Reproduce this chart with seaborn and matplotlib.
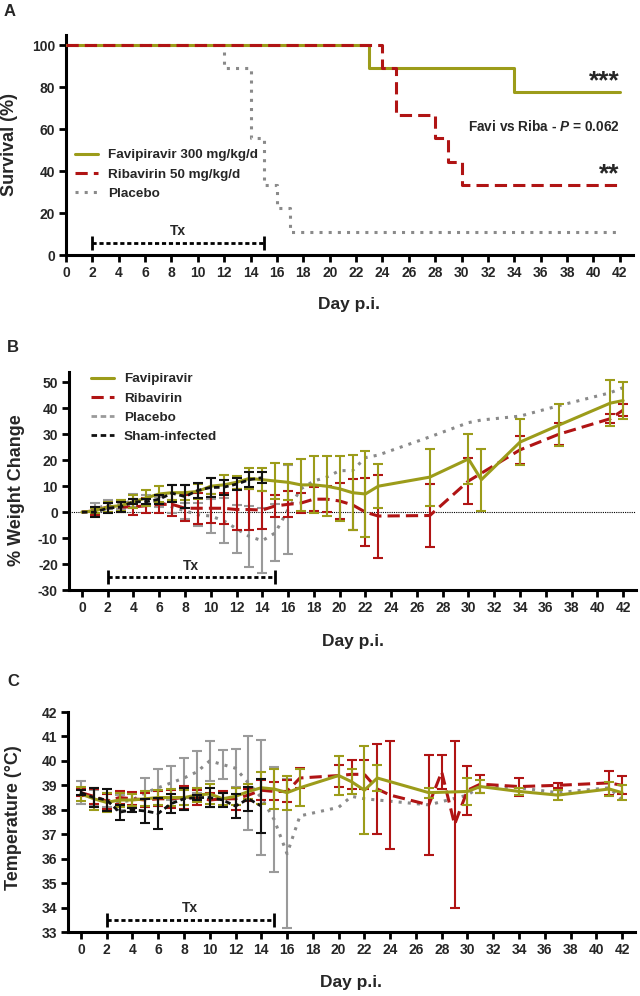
import numpy as np
import pandas as pd
import matplotlib
matplotlib.use("Agg")
import matplotlib.pyplot as plt
import seaborn as sns
from matplotlib.lines import Line2D

# ---------------- Panel A: survival ----------------
surv_days_favi = [0, 23, 34, 42]
surv_favi = [100, 88.9, 77.8, 77.8]
surv_days_riba = [0, 24, 25, 28, 29, 30, 42]
surv_riba = [100, 88.9, 66.7, 55.6, 44.4, 33.3, 33.3]
surv_days_plac = [0, 12, 14, 15, 16, 17, 42]
surv_plac = [100, 88.9, 55.6, 33.3, 22.2, 11.1, 11.1]

# ---------------- Panel B: % weight change ----------------
wt_days_favi = list(range(0, 24)) + [27, 30, 31, 34, 37, 41, 42]
wt_favi = [0, 0.5, 2, 2.5, 4, 5.5, 7, 7.5, 7.5, 8, 10, 10.5, 11.5, 13, 12.5,
           12, 11.5, 10.5, 10.5, 10, 9, 7.5, 7, 10,
           13.5, 20.5, 12.5, 27, 33.5, 42, 43]
wt_favi_sd = [0, 1, 2, 2, 2.5, 3, 3, 3, 3, 3, 3, 4, 2.5, 4, 4.5,
              7, 7, 10, 11, 11.5, 12.5, 14.5, 16.5, 8.5,
              11, 9.5, 12, 9, 8, 9, 7]

wt_days_riba = list(range(0, 24)) + [27, 30, 34, 37, 41, 42]
wt_riba = [0, 0.5, 2, 2, 2, 2.5, 3, 3, 1.5, 1.5, 1.5, 1.5, 1, 1, 0.8,
           2.4, 3, 3.5, 5, 5, 4.3, 2.8, 0, -1.5,
           -1.3, 12, 24, 30, 36, 39.3]
wt_riba_sd = [0, 1.5, 2, 2, 3, 3, 3.5, 4.5, 5, 6, 5.5, 6, 8, 8, 7.2,
              4.1, 5, 4, 4.5, 5, 6.8, 9.8, 13, 16,
              12.2, 8.7, 5.3, 4.3, 1.7, 2.4]

wt_days_plac = list(range(0, 17)) + [17, 18, 19, 20, 21, 22, 23, 27, 30, 31, 34, 37, 41, 42]
wt_plac = [0, 1, 3, 3, 4.5, 4.5, 4, 2, 0.5, -1, -1.5, -3.3, -6.4, -9.4, -11, -8, 1,
           9, 12, 13.5, 16, 16, 21, 22, 29, 34.5, 35.5, 37, 41, 46, 48]
wt_plac_sd = [0, 2.5, 1.8, 1.8, 2.5, 2, 2, 2.5, 3, 4.5, 6.6, 8.7, 9.2, 11.6, 12.5, 11, 17] + [np.nan] * 14

wt_days_sham = list(range(0, 15))
wt_sham = [0, 0, 1.5, 2, 4, 4, 5, 7.3, 6, 8.4, 9.5, 9.6, 10.8, 12.5, 13.3]
wt_sham_sd = [0, 1.8, 2, 2, 1, 1, 1.7, 3.2, 4.3, 3, 3.7, 2.9, 2.4, 2.8, 2.1]

# ---------------- Panel C: temperature ----------------
tp_days_favi = list(range(0, 18)) + [20, 21, 22, 23, 27, 30, 31, 34, 37, 41, 42]
tp_favi = [38.65, 38.45, 38.3, 38.4, 38.4, 38.45, 38.5, 38.5, 38.5, 38.6, 38.65, 38.45,
           38.55, 38.75, 38.9, 38.85, 38.7, 38.9,
           39.4, 39.15, 38.8, 39.3, 38.7, 38.75, 38.95, 38.75, 38.6, 38.85, 38.7]
tp_favi_sd = [0.3, 0.45, 0.4, 0.3, 0.25, 0.3, 0.3, 0.35, 0.3, 0.3, 0.4, 0.25,
              0.35, 0.3, 0.65, 0.8, 0.7, 0.75,
              0.8, 0.5, 1.8, 0.55, 0.2, 0.57, 0.25, 0.15, 0.2, 0.3, 0.3]

tp_days_riba = list(range(0, 18)) + [20, 21, 22, 23, 24, 27, 28, 29, 30, 31, 34, 37, 41, 42]
tp_riba = [38.7, 38.55, 38.35, 38.5, 38.45, 38.4, 38.45, 38.45, 38.5, 38.5, 38.4, 38.45,
           38.45, 38.6, 38.8, 38.75, 38.75, 39.3,
           39.4, 39.45, 39.45, 38.85, 38.6, 38.2, 39.55, 37.4, 38.8, 39.05, 38.95, 39.0, 39.1, 39.0]
tp_riba_sd = [0.15, 0.3, 0.3, 0.25, 0.27, 0.3, 0.3, 0.37, 0.48, 0.3, 0.3, 0.3,
              0.45, 0.25, 0.4, 0.37, 0.45, 0.4,
              0.45, 0.6, 0.6, 1.85, 2.2, 2.05, 0.7, 3.4, 1.0, 0.37, 0.37, 0.1, 0.48, 0.37]

tp_days_plac = list(range(0, 17)) + [17, 20, 21, 22, 23, 27, 30, 31, 34, 37, 41, 42]
tp_plac = [38.7, 38.5, 38.4, 38.3, 38.4, 38.7, 38.9, 39.1, 39.3, 39.55, 40.0, 39.85,
           39.7, 39.1, 38.5, 37.6, 36.2,
           37.75, 38.1, 38.55, 38.45, 38.4, 38.2, 38.6, 38.95, 38.9, 38.7, 38.9, 38.4]
tp_plac_sd = [0.48, 0.3, 0.3, 0.3, 0.3, 0.6, 0.75, 0.7, 0.8, 0.87, 0.81, 0.6,
              0.78, 1.92, 2.37, 2.13, 3.05] + [np.nan] * 12

tp_days_sham = list(range(0, 15))
tp_sham = [38.7, 38.5, 38.4, 37.9, 38.0, 37.95, 37.85, 38.25, 38.45, 38.5, 38.5, 38.4,
           38.15, 38.45, 38.15]
tp_sham_sd = [0.1, 0.4, 0.45, 0.3, 0.08, 0.48, 0.63, 0.4, 0.46, 0.1, 0.4, 0.3,
              0.48, 0.49, 1.09]

x_ticks = list(range(0, 43, 2))
legend_A = ["Favipiravir 300 mg/kg/d", "Ribavirin 50 mg/kg/d", "Placebo"]
legend_B = ["Favipiravir", "Ribavirin", "Placebo", "Sham-infected"]

# ---------------- style ----------------
sns.set_style("ticks")
plt.rcParams['font.family'] = ['Liberation Sans', 'DejaVu Sans']
plt.rcParams['font.weight'] = 'bold'
plt.rcParams['mathtext.fontset'] = 'custom'
plt.rcParams['mathtext.rm'] = 'Liberation Sans:bold'
plt.rcParams['mathtext.it'] = 'Liberation Sans:italic:bold'

OLIVE = '#9c9c1a'
RED = '#b01414'
GREY_BAR = '#9a9a9a'
GREY_LINE = '#8a8a8a'
BLACK = '#111111'

LS_SOLID = '-'
LS_RED = (0, (4, 2))
LS_DOT = (0, (1, 2))
LS_SHAM = (0, (2, 1.3))

fig = plt.figure(figsize=(6.4, 9.96), dpi=100)
W, H = 640.0, 996.0


def add_axes(left, right, top, bottom):
    return fig.add_axes([left / W, 1 - bottom / H, (right - left) / W, (bottom - top) / H])


axA = add_axes(66, 633, 34.5, 255)
axB = add_axes(69, 636, 372, 590)
axC = add_axes(68, 635, 712, 932)


def style_axes(ax):
    for s in ['top', 'right']:
        ax.spines[s].set_visible(False)
    for s in ['left', 'bottom']:
        ax.spines[s].set_linewidth(2.2)
        ax.spines[s].set_color('black')
    ax.tick_params(axis='both', which='major', direction='out', length=5, width=2,
                   color='black', labelsize=10, pad=3)
    ax.set_xticks(x_ticks)
    ax.set_xticklabels([str(t) for t in x_ticks], fontweight='bold', fontsize=10)


def line(ax, x, y, color, ls, lw=2.2, z=3, **kw):
    sns.lineplot(x=x, y=y, ax=ax, color=color, linestyle=ls, linewidth=lw,
                 zorder=z, estimator=None, sort=False, legend=False, **kw)


def ebar(ax, x, y, sd, color, z=3):
    x = np.asarray(x, float)
    y = np.asarray(y, float)
    sd = np.asarray(sd, float)
    m = ~np.isnan(sd) & (sd > 0)
    ax.errorbar(x[m], y[m], yerr=sd[m], fmt='none', ecolor=color, elinewidth=1.5,
                capsize=3.5, capthick=1.5, zorder=z)


def tx_bracket(ax, y, ytext):
    ax.plot([2, 15], [y, y], color='black', lw=2, linestyle=(0, (1.5, 1)), zorder=6)
    ax.plot([2, 15], [y, y], linestyle='none', marker='|', markersize=10,
            markeredgewidth=2, color='black', zorder=6)
    ax.text(8.5, ytext, 'Tx', ha='center', va='center', fontsize=10, fontweight='bold')


def handles(styles):
    return [Line2D([0], [0], color=c, linestyle=ls, linewidth=lw) for c, ls, lw in styles]


# ---------------- Panel A ----------------
line(axA, surv_days_plac, surv_plac, GREY_LINE, LS_DOT, z=3, drawstyle='steps-post')
line(axA, surv_days_favi, surv_favi, OLIVE, LS_SOLID, z=4, drawstyle='steps-post')
line(axA, surv_days_riba, surv_riba, RED, LS_RED, z=5, drawstyle='steps-post')
axA.set_xlim(0, 43)
axA.set_ylim(0, 105)
axA.set_yticks([0, 20, 40, 60, 80, 100])
style_axes(axA)
axA.set_yticklabels(['0', '20', '40', '60', '80', '100'], fontweight='bold', fontsize=10)
axA.set_ylabel('Survival (%)', fontsize=13, fontweight='bold')
axA.yaxis.set_label_coords(-0.084, 0.5)
axA.set_xlabel('Day p.i.', fontsize=12.5, fontweight='bold')
axA.xaxis.set_label_coords(0.5, -0.19)
tx_bracket(axA, 5.5, 11.4)
axA.text(42, 82.5, '***', ha='right', va='center', fontsize=19, fontweight='bold')
axA.text(42, 38.5, '**', ha='right', va='center', fontsize=19, fontweight='bold')
axA.text(42, 61, r'Favi vs Riba - $\mathit{P}$ = 0.062', ha='right', va='center',
         fontsize=9.8, fontweight='bold')
axA.legend(handles([(OLIVE, LS_SOLID, 2.2), (RED, LS_RED, 2.2), (GREY_LINE, LS_DOT, 2.2)]),
           legend_A, loc='upper left', bbox_to_anchor=(75 / W, 1 - 149 / H),
           bbox_transform=fig.transFigure, frameon=False, borderpad=0, borderaxespad=0,
           handlelength=1.7, handletextpad=0.75, labelspacing=0.5,
           prop={'size': 9.7, 'weight': 'bold'})
fig.text(10 / W, 1 - 12 / H, 'A', fontsize=12, fontweight='bold', ha='center', va='center')

# ---------------- Panel B ----------------
axB.axhline(0, color='black', lw=0.8, linestyle=(0, (1, 1)), zorder=1)
ebar(axB, wt_days_plac, wt_plac, wt_plac_sd, GREY_BAR, z=2)
line(axB, wt_days_plac, wt_plac, GREY_LINE, LS_DOT, z=2)
ebar(axB, wt_days_riba, wt_riba, wt_riba_sd, RED, z=3)
line(axB, wt_days_riba, wt_riba, RED, LS_RED, z=3)
ebar(axB, wt_days_favi, wt_favi, wt_favi_sd, OLIVE, z=4)
line(axB, wt_days_favi, wt_favi, OLIVE, LS_SOLID, z=4)
ebar(axB, wt_days_sham, wt_sham, wt_sham_sd, BLACK, z=5)
line(axB, wt_days_sham, wt_sham, BLACK, LS_SHAM, lw=2, z=5)
axB.set_xlim(-1, 43)
axB.set_ylim(-30, 54)
axB.set_yticks(list(range(-30, 51, 10)))
style_axes(axB)
axB.set_yticklabels([str(v) for v in range(-30, 51, 10)], fontweight='bold', fontsize=10)
axB.set_ylabel('% Weight Change', fontsize=13, fontweight='bold')
axB.yaxis.set_label_coords(-0.078, 0.46)
axB.set_xlabel('Day p.i.', fontsize=12.5, fontweight='bold')
axB.xaxis.set_label_coords(0.5, -0.2)
tx_bracket(axB, -25.1, -20.7)
axB.legend(handles([(OLIVE, LS_SOLID, 2.2), (RED, LS_RED, 2.2), (GREY_BAR, LS_SHAM, 2),
                    (BLACK, LS_SHAM, 2)]),
           legend_B, loc='upper left', bbox_to_anchor=(91 / W, 1 - 373 / H),
           bbox_transform=fig.transFigure, frameon=False, borderpad=0, borderaxespad=0,
           handlelength=1.7, handletextpad=0.75, labelspacing=0.5,
           prop={'size': 9.7, 'weight': 'bold'})
fig.text(13 / W, 1 - 347 / H, 'B', fontsize=12, fontweight='bold', ha='center', va='center')

# ---------------- Panel C ----------------
ebar(axC, tp_days_plac, tp_plac, tp_plac_sd, GREY_BAR, z=2)
line(axC, tp_days_plac, tp_plac, GREY_LINE, LS_DOT, z=2)
ebar(axC, tp_days_riba, tp_riba, tp_riba_sd, RED, z=3)
line(axC, tp_days_riba, tp_riba, RED, LS_RED, z=3)
ebar(axC, tp_days_favi, tp_favi, tp_favi_sd, OLIVE, z=4)
line(axC, tp_days_favi, tp_favi, OLIVE, LS_SOLID, z=4)
ebar(axC, tp_days_sham, tp_sham, tp_sham_sd, BLACK, z=5)
line(axC, tp_days_sham, tp_sham, BLACK, LS_SHAM, lw=2, z=5)
axC.set_xlim(-1, 43)
axC.set_ylim(33, 42)
axC.set_yticks(list(range(33, 43)))
style_axes(axC)
axC.set_yticklabels([str(v) for v in range(33, 43)], fontweight='bold', fontsize=10)
axC.set_ylabel('Temperature (°C)', fontsize=13, fontweight='bold')
axC.yaxis.set_label_coords(-0.081, 0.52)
axC.set_xlabel('Day p.i.', fontsize=12.5, fontweight='bold')
axC.xaxis.set_label_coords(0.5, -0.195)
tx_bracket(axC, 33.5, 33.97)
fig.text(13 / W, 1 - 681 / H, 'C', fontsize=12, fontweight='bold', ha='center', va='center')

fig.savefig('out.png', dpi=100, facecolor='white')
